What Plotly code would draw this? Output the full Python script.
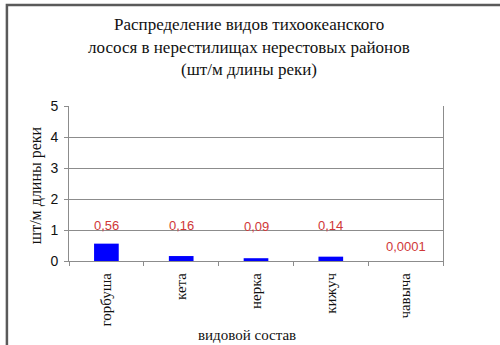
import plotly.graph_objects as go

# Species of Pacific salmon and their density on spawning grounds
species = ["горбуша", "кета", "нерка", "кижуч", "чавыча"]
density = [0.56, 0.16, 0.09, 0.14, 0.0001]
value_labels = ["0,56", "0,16", "0,09", "0,14", "0,0001"]

# heights (in axis units) at which each value label sits
label_heights = [1.13, 1.13, 1.10, 1.14, 0.48]

title_lines = [
    "Распределение видов тихоокеанского",
    "лосося в нерестилищах нерестовых районов",
    "(шт/м длины реки)",
]

SERIF = "Liberation Serif, Times New Roman, serif"
SANS = "Liberation Sans, Arial, sans-serif"

fig = go.Figure()
fig.add_trace(go.Bar(
    x=species, y=density, width=0.33,
    marker=dict(color="#0000FF", line=dict(width=0)),
    hoverinfo="skip",
))

for s, h, t in zip(species, label_heights, value_labels):
    fig.add_annotation(x=s, y=h, text=t, showarrow=False, xref="x", yref="y",
                       font=dict(family=SANS, size=13, color="#D03838"))

fig.update_layout(
    width=500, height=345,
    margin=dict(l=69, r=57, t=106, b=84),
    paper_bgcolor="white", plot_bgcolor="white",
    showlegend=False,
)

# three-line chart title
for line, yp in zip(title_lines, [1.523, 1.376, 1.234]):
    fig.add_annotation(text=line, xref="paper", yref="paper", x=0.482, y=yp,
                       xanchor="center", yanchor="middle", showarrow=False,
                       font=dict(family=SERIF, size=17, color="#111"))

fig.update_xaxes(
    type="category", range=[-0.5, 4.5],
    showline=True, linecolor="#8c8c8c", linewidth=1,
    ticks="outside", tickson="boundaries", ticklen=4, tickcolor="#8c8c8c",
    tickangle=-90, tickfont=dict(family=SERIF, size=15, color="#111"),
    ticklabelstandoff=5,
    showgrid=False,
)
fig.update_yaxes(
    range=[0, 5], dtick=1,
    showline=True, linecolor="#8c8c8c", linewidth=1, mirror=True,
    ticks="outside", ticklen=4, tickcolor="#8c8c8c",
    showgrid=True, gridcolor="#8c8c8c", gridwidth=1,
    tickfont=dict(family=SANS, size=14, color="#111"),
    ticklabelstandoff=3,
    zeroline=False,
)

# axis titles
fig.add_annotation(text="видовой состав", xref="paper", yref="paper",
                   x=0.476, y=-0.48, xanchor="center", yanchor="middle",
                   showarrow=False, font=dict(family=SERIF, size=15, color="#111"))
fig.add_annotation(text="шт/м длины реки", xref="paper", yref="paper",
                   x=-0.088, y=0.49, xanchor="center", yanchor="middle",
                   textangle=-90, showarrow=False,
                   font=dict(family=SERIF, size=16, color="#111"))

# outer chart frame (only its top and left edges fall inside the page)
fig.add_shape(type="rect", xref="paper", yref="paper",
              x0=-0.166, y0=-0.6, x1=1.2, y1=1.652,
              line=dict(color="#5a5a5a", width=2.5), layer="above")

fig.write_html("out.html")
